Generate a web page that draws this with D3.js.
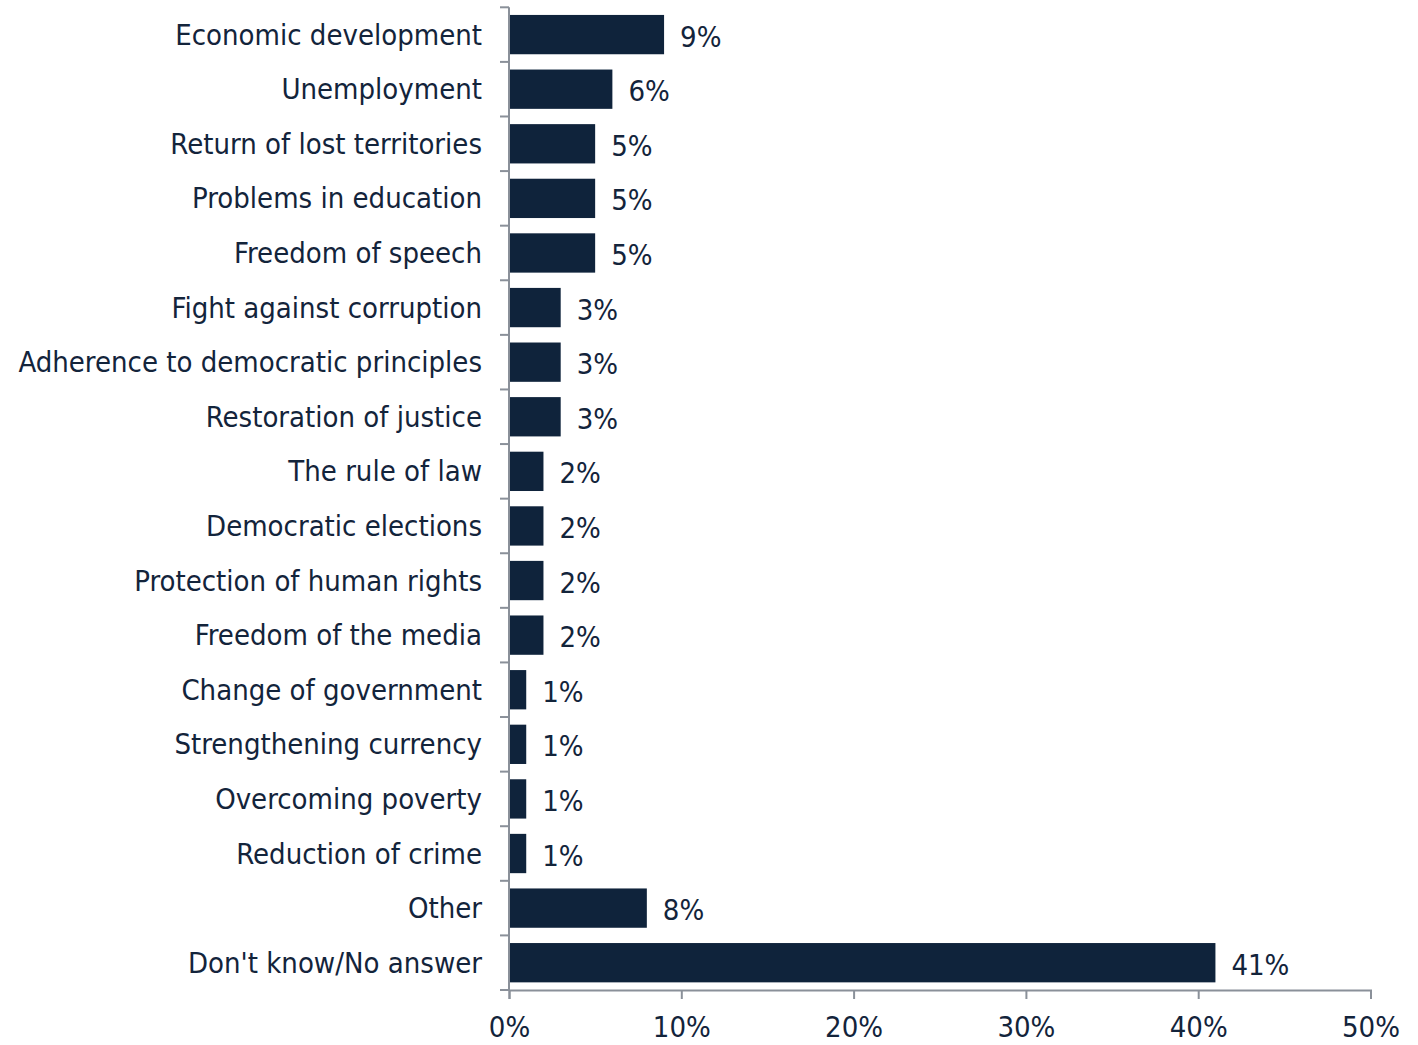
<!DOCTYPE html>
<html>
<head>
<meta charset="utf-8">
<script src="https://cdn.jsdelivr.net/npm/d3@7"></script>
<style>
  html, body { margin: 0; padding: 0; background: #ffffff; }
  svg { display: block; }
</style>
</head>
<body>
<svg id="chart" width="1418" height="1045"></svg>
<script>
const categories = [
  "Economic development",
  "Unemployment",
  "Return of lost territories",
  "Problems in education",
  "Freedom of speech",
  "Fight against corruption",
  "Adherence to democratic principles",
  "Restoration of justice",
  "The rule of law",
  "Democratic elections",
  "Protection of human rights",
  "Freedom of the media",
  "Change of government",
  "Strengthening currency",
  "Overcoming poverty",
  "Reduction of crime",
  "Other",
  "Don't know/No answer"
];
const values = [9, 6, 5, 5, 5, 3, 3, 3, 2, 2, 2, 2, 1, 1, 1, 1, 8, 41];
const xTicks = [0, 10, 20, 30, 40, 50];

const margin = { top: 7.3, left: 509 };
const FONT = "'DejaVu Sans Condensed', 'DejaVu Sans', sans-serif";
const FS = 29;
const barColor = "#0f233b";
const textColor = "#13243b";
const axisColor = "#8a9099";

const svg = d3.select("#chart");
const x = d3.scaleLinear().domain([0, 50]).range([margin.left, 1370.5]);
const y = d3.scaleBand().domain(categories).range([margin.top, 990]).paddingInner(0.28).paddingOuter(0.14);

// bars
svg.append("g").selectAll("rect")
  .data(categories)
  .join("rect")
  .attr("x", x(0) + 1)
  .attr("y", d => y(d))
  .attr("width", (d, i) => x(values[i]) - x(0) - 1)
  .attr("height", y.bandwidth())
  .attr("fill", barColor);

// value labels
svg.append("g").selectAll("text")
  .data(categories)
  .join("text")
  .attr("x", (d, i) => x(values[i]) + 16)
  .attr("y", d => y(d) + y.bandwidth() / 2 + 2)
  .attr("dominant-baseline", "central")
  .attr("font-family", FONT)
  .attr("font-size", FS)
  .attr("fill", textColor)
  .text((d, i) => values[i] + "%");

// y axis: line + ticks at band boundaries
const yAxisG = svg.append("g");
yAxisG.append("line")
  .attr("x1", x(0)).attr("x2", x(0))
  .attr("y1", 7.3).attr("y2", 990)
  .attr("stroke", axisColor).attr("stroke-width", 2);
const boundaries = d3.range(categories.length + 1).map(i => 7.3 + i * (990 - 7.3) / categories.length);
yAxisG.selectAll("line.tick")
  .data(boundaries)
  .join("line")
  .attr("class", "tick")
  .attr("x1", x(0) - 9).attr("x2", x(0))
  .attr("y1", d => d).attr("y2", d => d)
  .attr("stroke", axisColor).attr("stroke-width", 2);

// category labels
yAxisG.selectAll("text")
  .data(categories)
  .join("text")
  .attr("x", 482)
  .attr("y", d => y(d) + y.bandwidth() / 2)
  .attr("text-anchor", "end")
  .attr("dominant-baseline", "central")
  .attr("font-family", FONT)
  .attr("font-size", FS)
  .attr("fill", textColor)
  .text(d => d);

// x axis
const xAxis = d3.axisBottom(x)
  .tickValues(xTicks)
  .tickFormat(d => d + "%")
  .tickSize(9)
  .tickPadding(17);
const xg = svg.append("g").attr("transform", "translate(0,990)").call(xAxis);
xg.select(".domain").attr("stroke", axisColor).attr("stroke-width", 2);
xg.selectAll(".tick line").attr("stroke", axisColor).attr("stroke-width", 2);
xg.selectAll(".tick text")
  .attr("font-family", FONT)
  .attr("font-size", FS)
  .attr("fill", textColor);
</script>
</body>
</html>
